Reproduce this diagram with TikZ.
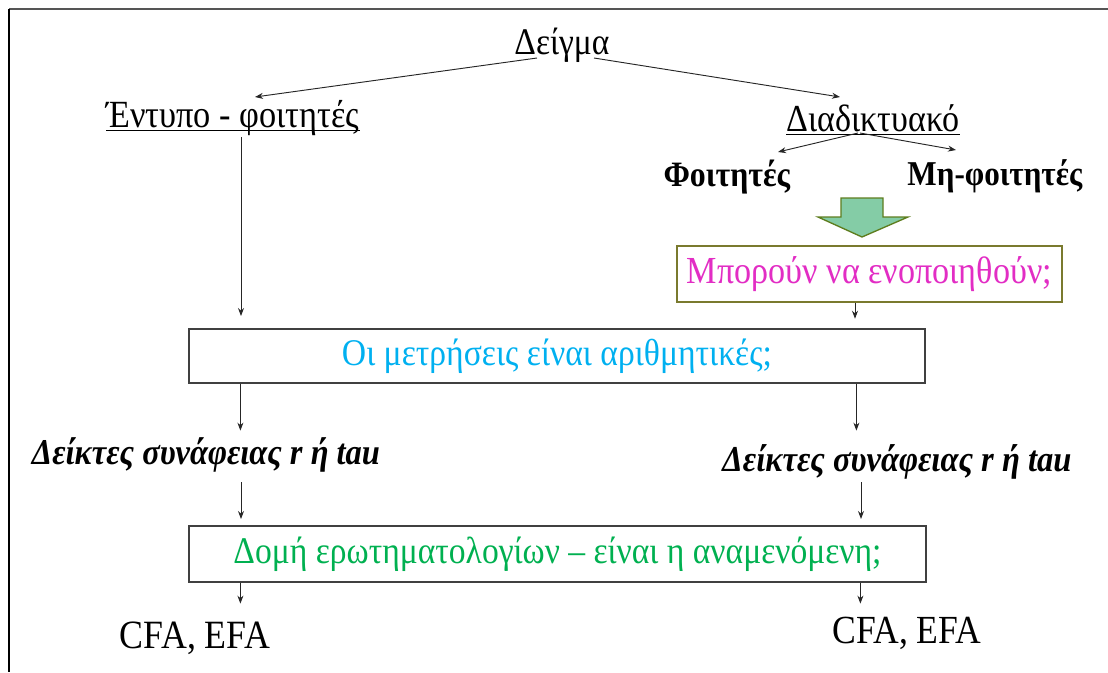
\documentclass[tikz,border=0pt]{standalone}
\usepackage{fontspec}
\usepackage{graphicx}
\setmainfont{Liberation Serif}
\usetikzlibrary{arrows.meta,calc}

% one drawing unit = one pixel of the 1108 x 672 canvas
\newlength\pxu
\setlength\pxu{0.75pt}
% set a label to a given width, slightly stretched upright
\newcommand\fitw[2]{\scalebox{1}[1.12]{\resizebox{#1\pxu}{!}{#2}}}

\definecolor{qmagenta}{HTML}{E22DC4}
\definecolor{qcyan}{HTML}{00B0F0}
\definecolor{qgreen}{HTML}{00B050}
\definecolor{qolive}{HTML}{7A7A2E}
\definecolor{qarrowfill}{HTML}{84CCA6}
\definecolor{qarrowline}{HTML}{5E7D1E}
\definecolor{qframe}{HTML}{555555}
\definecolor{qbox}{HTML}{404040}

\tikzset{
  lbl/.style={inner sep=0pt, anchor=center},
  arr/.style={draw=black!85, line width=0.7pt, -{Stealth[length=6pt,width=4.5pt]}},
  qbox/.style={draw=qbox, line width=0.9pt, inner sep=0pt},
  uline/.style={draw=black, line width=1.1pt},
}

\begin{document}
\begin{tikzpicture}[x=0.75pt, y=-0.75pt]
\useasboundingbox (0,0) rectangle (1108,672);

% page frame: top and left rules only
\draw[qframe, line width=1.5pt] (9,9) -- (1108,9);
\draw[black, line width=0.8pt] (9,9) -- (9,672);

% top of the tree
\node[lbl] (deigma) at (562,45) {\fitw{95}{Δείγμα}};
\node[lbl] (entypo) at (233,118) {\fitw{253}{Έντυπο - φοιτητές}};
\node[lbl] (diad) at (873,118) {\fitw{173}{Διαδικτυακό}};
\node[lbl] (foit) at (727,177) {\fitw{127}{\textbf{Φοιτητές}}};
\node[lbl] (mifoit) at (995,176) {\fitw{175}{\textbf{Μη-φοιτητές}}};

% underlines of the two branch titles
\draw[uline] ($(entypo.base west)+(0,3)$) -- ($(entypo.base east)+(0,3)$);
\draw[uline] ($(diad.base west)+(0,3)$) -- ($(diad.base east)+(0,3)$);

\draw[arr] ($(deigma.center)+(-25,13)$) -- ($(entypo.center)+(22,-21)$);
\draw[arr] ($(deigma.center)+(32,13)$) -- ($(diad.center)+(-33,-21)$);
\draw[arr] ($(diad.center)+(-15,15)$) -- ($(foit.center)+(51,-25)$);
\draw[arr] ($(diad.center)+(-13,15)$) -- ($(mifoit.center)+(-39,-26)$);

% block arrow into the merge question
\draw[qarrowline, fill=qarrowfill, line width=1pt, line join=miter]
  (841,198) -- (883,198) -- (883,217) -- (908,217) -- (862,237)
  -- (818,217) -- (841,217) -- cycle;

% question boxes
\node[qbox, draw=qolive, line width=1.1pt, minimum width=385\pxu, minimum height=56\pxu]
  (merge) at (869.5,274) {\fitw{365}{\textcolor{qmagenta}{Μπορούν να ενοποιηθούν;}}};
\node[qbox, minimum width=736\pxu, minimum height=54\pxu]
  (numeric) at (557,356) {\fitw{430}{\textcolor{qcyan}{Οι μετρήσεις είναι αριθμητικές;}}};
\node[qbox, minimum width=737\pxu, minimum height=56\pxu]
  (structure) at (557.5,554) {\fitw{648}{\textcolor{qgreen}{Δομή ερωτηματολογίων – είναι η αναμενόμενη;}}};

% correlation indices
\node[lbl] (deik1) at (206,455) {\fitw{348}{\textbf{\textit{Δείκτες συνάφειας r ή tau}}}};
\node[lbl] (deik2) at (897,462) {\fitw{349}{\textbf{\textit{Δείκτες συνάφειας r ή tau}}}};

% factor analyses
\node[lbl] (cfa1) at (195,638) {\fitw{150}{CFA, EFA}};
\node[lbl] (cfa2) at (907,633) {\fitw{149}{CFA, EFA}};

% vertical connectors
\draw[arr] ($(entypo.center)+(8,19)$) -- ($(entypo.center)+(8,198)$);
\draw[arr] ($(merge.south)+(-14.5,0)$) -- ($(merge.south)+(-14.5,16)$);

\draw[arr] ($(numeric.south west)+(52,0)$) -- ($(numeric.south west)+(52,47)$);
\draw[arr] ($(numeric.south west)+(668,0)$) -- ($(numeric.south west)+(668,47)$);

\draw[arr] ($(deik1.center)+(35,27)$) -- ($(deik1.center)+(35,64)$);
\draw[arr] ($(deik2.center)+(-36,20)$) -- ($(deik2.center)+(-36,57)$);

\draw[arr] ($(structure.south west)+(52,0)$) -- ($(structure.south west)+(52,21)$);
\draw[arr] ($(structure.south west)+(672,0)$) -- ($(structure.south west)+(672,21)$);
\end{tikzpicture}
\end{document}
